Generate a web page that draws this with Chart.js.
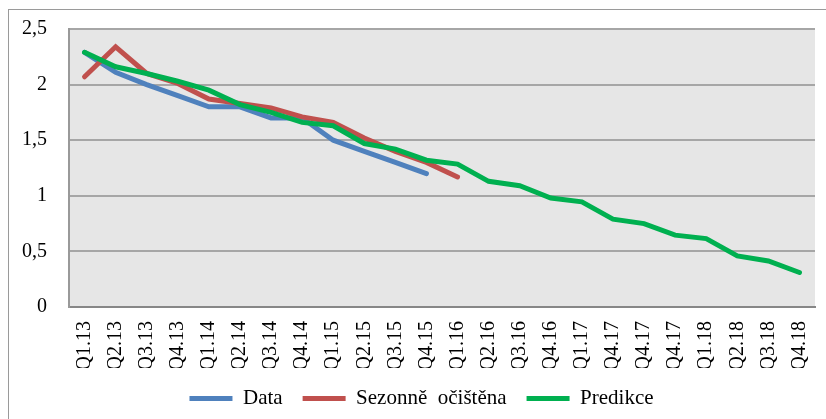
<!DOCTYPE html>
<html>
<head>
<meta charset="utf-8">
<script src="https://cdn.jsdelivr.net/npm/chart.js@4.4.1/dist/chart.umd.min.js"></script>
<style>
    html, body { margin: 0; padding: 0; background: #fff; }
    #wrap { position: relative; width: 826px; height: 419px; }
</style>
</head>
<body>
<div id="wrap"><canvas id="trendChart" width="826" height="419"></canvas></div>
<script>
const quarters = ['Q1.13', 'Q2.13', 'Q3.13', 'Q4.13', 'Q1.14', 'Q2.14', 'Q3.14', 'Q4.14',
    'Q1.15', 'Q2.15', 'Q3.15', 'Q4.15', 'Q1.16', 'Q2.16', 'Q3.16', 'Q4.16',
    'Q1.17', 'Q4.17', 'Q4.17', 'Q4.17', 'Q1.18', 'Q2.18', 'Q3.18', 'Q4.18'];
const dataValues = [2.29, 2.11, 2.0, 1.9, 1.8, 1.8, 1.7, 1.7, 1.5, 1.4, 1.3, 1.2];
const seasonalValues = [2.07, 2.34, 2.1, 2.01, 1.87, 1.83, 1.79, 1.71, 1.66, 1.52, 1.4, 1.3, 1.17];
const predictionValues = [2.29, 2.16, 2.1, 2.03, 1.95, 1.82, 1.75, 1.66, 1.63, 1.47, 1.42, 1.32,
    1.285, 1.13, 1.09, 0.98, 0.946, 0.79, 0.75, 0.646, 0.615, 0.46, 0.414, 0.31];
const yTicks = [0, 0.5, 1, 1.5, 2, 2.5];

const serif = '"Liberation Serif", "Times New Roman", serif';
Chart.defaults.font.family = serif;
Chart.defaults.color = '#000';

// grey plot background + outer frame
const backdrop = {
    id: 'backdrop',
    afterLayout(chart) {
        // legend sits a bit right of centre in the original
        chart.legend.left += 10;
        chart.legend.right += 10;
    },
    beforeDraw(chart) {
        const { ctx, chartArea } = chart;
        ctx.save();
        ctx.fillStyle = '#fff';
        ctx.fillRect(0, 0, chart.width, chart.height);
        ctx.strokeStyle = '#9a9a9a';
        ctx.lineWidth = 1;
        ctx.strokeRect(8.5, 9.5, 2000, 2000);
        ctx.fillStyle = '#e6e6e6';
        ctx.fillRect(chartArea.left, chartArea.top, chartArea.right - chartArea.left, chartArea.bottom - chartArea.top);
        ctx.restore();
    }
};

function lineSet(label, values, color, order) {
    return {
        label: label,
        data: values,
        borderColor: color,
        backgroundColor: color,
        borderWidth: 5,
        borderCapStyle: 'round',
        pointRadius: 0,
        tension: 0,
        order: order
    };
}

new Chart(document.getElementById('trendChart'), {
    type: 'line',
    data: {
        labels: quarters,
        datasets: [
            lineSet('Data', dataValues, '#4f81bd', 3),
            lineSet('Sezonně  očištěna', seasonalValues, '#c0504d', 2),
            lineSet('Predikce', predictionValues, '#00b050', 1)
        ]
    },
    options: {
        responsive: false,
        animation: false,
        layout: { padding: { left: 8, top: 29, right: 11, bottom: 0 } },
        plugins: {
            legend: {
                position: 'bottom',
                labels: {
                    usePointStyle: true,
                    pointStyle: 'line',
                    pointStyleWidth: 43,
                    padding: 20,
                    font: { size: 21, family: serif },
                    sort: (a, b) => a.datasetIndex - b.datasetIndex
                }
            },
            tooltip: { enabled: false }
        },
        scales: {
            x: {
                offset: true,
                grid: { display: false, drawTicks: false },
                border: { display: true, color: '#878787', width: 2 },
                ticks: {
                    minRotation: 90,
                    maxRotation: 90,
                    autoSkip: false,
                    padding: 14,
                    font: { size: 20, family: serif }
                },
                afterFit: s => { s.height = 61; s.paddingLeft = 0; s.paddingRight = 0; }
            },
            y: {
                min: 0,
                max: 2.5,
                afterBuildTicks: s => { s.ticks = yTicks.map(v => ({ value: v })); },
                grid: { color: '#a6a6a6', lineWidth: 2, drawTicks: false },
                border: { display: true, color: '#999', width: 2 },
                ticks: {
                    padding: 22,
                    font: { size: 20, family: serif },
                    callback: v => String(v).replace('.', ',')
                },
                afterFit: s => { s.width = 61; s.paddingTop = 0; s.paddingBottom = 0; }
            }
        }
    },
    plugins: [backdrop]
});
</script>
</body>
</html>
